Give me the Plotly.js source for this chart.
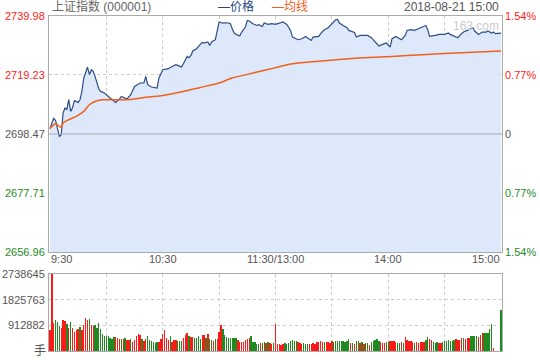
<!DOCTYPE html>
<html><head><meta charset="utf-8">
<script src="https://cdn.plot.ly/plotly-3.0.1.min.js"></script>
<style>html,body{margin:0;padding:0;background:#fff}#chart{width:540px;height:360px}</style>
</head><body><div id="chart"></div>
<script>
// ---- data ----
const title = "上证指数 (000001)";
const dateText = "2018-08-21 15:00";
const preClose = 2698.47;
const priceTicks = [2739.98, 2719.23, 2698.47, 2677.71, 2656.96];
const pctTicks = ["1.54%", "0.77%", "0", "0.77%", "1.54%"];
const volTicks = [2738645, 1825763, 912882];
const timeTicks = [0, 60, 120, 180, 240];
const timeLabels = ["9:30", "10:30", "11:30/13:00", "14:00", "15:00"];

const priceMin = [0,2,3,4,5,6,7,8,9,10,11,12,13,15,16,17,18,20,21,22,23,24,26,27,29,32,35,37,38,41,43,45,48,50,51,52,54,57,58,60,62,63,65,67,68,70,71,73,74,75,76,78,80,81,82,84,85,86,88,89,90,92,93,95,96,97,98,100,101,102,104,105,106,108,110,111,113,114,116,118,120,124,126,128,129,132,134,136,137,139,140,143,144,146,148,149,151,152,153,154,156,158,159,162,163,165,167,169,171,173,175,177,179,181,182,184,186,187,189,190,192,194,196,198,200,201,202,205,207,210,212,213,215,217,219,220,222,224,225,226,228,230,232,233,235,236,237,240];
const priceVal = [2700.33,2703.96,2703.25,2700.58,2697.63,2698.22,2705.86,2707.61,2707.02,2710.53,2706.42,2707.61,2710.18,2709.58,2710.53,2713.45,2718.17,2722.03,2719.33,2721.08,2720.49,2718.73,2714.30,2713.45,2712.89,2711.13,2709.58,2710.78,2711.69,2710.78,2712.29,2715.21,2716.41,2716.41,2718.73,2715.81,2715.00,2714.65,2718.17,2721.08,2721.33,2721.44,2722.24,2722.84,2722.60,2722.03,2723.19,2725.76,2725.30,2726.11,2727.66,2728.47,2729.98,2730.69,2730.47,2730.83,2729.63,2730.83,2731.64,2734.70,2737.86,2737.51,2737.61,2737.51,2737.26,2735.50,2733.99,2733.15,2733.04,2734.34,2736.10,2738.42,2738.21,2737.26,2736.66,2736.91,2736.31,2737.51,2737.02,2737.26,2737.02,2737.86,2737.02,2734.91,2732.58,2731.64,2731.99,2732.80,2732.34,2731.39,2732.58,2732.80,2733.75,2735.15,2735.86,2736.66,2738.21,2738.67,2738.77,2737.51,2736.66,2735.86,2734.91,2734.20,2732.58,2733.15,2733.15,2733.15,2732.34,2730.83,2729.42,2729.98,2730.47,2729.07,2731.99,2732.80,2731.99,2731.64,2733.15,2734.91,2735.15,2734.91,2735.50,2736.10,2736.66,2735.15,2732.80,2733.15,2733.50,2733.50,2733.99,2733.50,2732.80,2732.34,2733.75,2734.34,2734.91,2735.50,2735.86,2734.70,2733.50,2734.34,2734.34,2734.70,2733.99,2734.34,2733.75,2733.99];

const avgMin = [0,1,3,6,7,10,14,18,21,25,28,34,43,52,60,71,80,90,97,108,117,128,138,151,164,182,198,216,240];
const avgVal = [2700.33,2701.14,2702.09,2700.79,2702.34,2703.50,2704.66,2706.42,2708.77,2710.18,2710.53,2710.53,2710.64,2711.48,2712.05,2713.45,2714.86,2716.41,2718.17,2719.92,2721.33,2723.09,2723.79,2724.50,2725.20,2725.76,2726.36,2726.96,2727.66];

const volume = [
741458,2738645,1004556,1100228,1016515,884966,825171,1100228,1064351,956720,
801253,1028474,825171,681663,741458,777335,861048,741458,920843,1183941,
1100228,1148064,920843,884966,920843,801253,1004556,777335,597950,526196,
526196,526196,466401,442483,502278,502278,478360,442483,442483,418565,
466401,382688,382688,418565,322893,406606,526196,597950,562073,418565,
346811,418565,526196,406606,358770,322893,298975,322893,310934,442483,
621868,741458,466401,382688,526196,322893,382688,406606,358770,358770,
358770,466401,562073,645786,538155,502278,502278,478360,478360,526196,
442483,562073,562073,478360,621868,418565,406606,358770,442483,418565,
681663,920843,777335,562073,502278,466401,466401,478360,478360,478360,
382688,322893,322893,322893,382688,418565,466401,526196,322893,322893,
263098,263098,287016,287016,322893,287016,322893,287016,
263098,287016,956720,239180,239180,215262,239180,275057,263098,287016,
358770,382688,358770,346811,310934,287016,251139,275057,239180,239180,
239180,263098,287016,263098,310934,322893,346811,310934,310934,310934,
310934,287016,346811,322893,346811,346811,346811,346811,346811,322893,
370729,418565,275057,287016,263098,346811,346811,275057,310934,239180,
275057,275057,203303,322893,370729,394647,418565,346811,310934,275057,
275057,310934,310934,346811,346811,346811,310934,275057,275057,334852,
275057,490319,382688,346811,346811,322893,275057,310934,275057,310934,
322893,322893,382688,490319,418565,382688,322893,298975,322893,275057,
275057,322893,346811,346811,382688,370729,370729,382688,418565,382688,
382688,454442,454442,418565,454442,454442,526196,526196,526196,526196,
490319,562073,633827,633827,633827,633827,777335,956720,95672,
0,0,0,1458998];
// 1 = up (red), 0 = down (green)
const volUp = [
1,1,1,0,0,0,1,1,1,0, 1,0,1,1,1,1,0,1,1,1, 1,0,1,1,0,0,0,0,0,0,
0,0,0,0,0,1,1,1,0,1, 0,1,1,0,1,1,1,1,1,0, 1,1,0,0,0,0,0,0,1,1,
1,1,1,1,0,1,1,1,0,0, 0,1,1,1,0,1,1,0,0,0, 0,1,1,0,1,0,0,1,0,1,
1,1,0,0,0,0,0,0,0,0, 1,1,1,1,1,1,1,0,0,0, 0,0,1,0,0,1,0,1,
1,0,1,1,1,1,1,0,0,0, 0,0,0,0,1,1,1,0,0,0, 1,1,1,1,1,1,1,1,0,1,
1,1,1,0,0,0,0,0,0,0, 0,0,1,0,1,0,0,1,0,1, 0,0,1,0,0,0,0,0,1,1,
1,0,0,1,1,1,1,0,0,1, 0,1,1,1,1,1,0,1,1,1, 1,1,0,0,1,1,0,0,0,1,
1,0,0,0,0,0,0,0,1,1, 1,1,0,1,1,1,0,0,0,0, 1,1,1,0,0,0,0,0,1,
0,0,0,0];

// ---- styling ----
const RED = '#ff1a1a', GREEN = '#1f8a1f', GRAY = '#555555';
const FONT = 'Liberation Sans, Arial, Noto Sans CJK SC, sans-serif';
const volX = volume.map((v, i) => i);

const traces = [
  {x: priceMin, y: priceVal, type: 'scatter', mode: 'lines', fill: 'tozeroy',
   fillcolor: '#dde8fb', line: {color: '#2d4d86', width: 1.2}, xaxis: 'x', yaxis: 'y', hoverinfo: 'skip'},
  {x: avgMin, y: avgVal, type: 'scatter', mode: 'lines',
   line: {color: '#f0601a', width: 1.5, shape: 'spline', smoothing: 0.6}, xaxis: 'x', yaxis: 'y', hoverinfo: 'skip'},
  {x: volX, y: volume, type: 'bar', width: 0.72,
   marker: {color: volUp.map(u => u ? RED : GREEN), line: {width: 0}}, xaxis: 'x2', yaxis: 'y2', hoverinfo: 'skip'}
];

const ann = [];
const a = (o) => ann.push(Object.assign({showarrow: false, font: {family: FONT, size: 11, color: GRAY}}, o));
const leftColors = [RED, RED, GRAY, GREEN, GREEN];
priceTicks.forEach((v, i) => {
  a({xref: 'paper', yref: 'y', x: 0, y: v, xanchor: 'right', yanchor: 'middle', xshift: -2,
     text: v.toFixed(2), font: {family: FONT, size: 11, color: leftColors[i]}});
  a({xref: 'paper', yref: 'y', x: 1, y: v, xanchor: 'left', yanchor: 'middle', xshift: 1,
     text: pctTicks[i], font: {family: FONT, size: 11, color: leftColors[i]}});
});
volTicks.forEach(v => a({xref: 'paper', yref: 'y2', x: 0, y: v, xanchor: 'right', yanchor: 'middle', xshift: -2, text: String(v)}));
a({xref: 'paper', yref: 'y2', x: 0, y: 0, xanchor: 'right', yanchor: 'middle', xshift: -1, text: '手', font: {family: FONT, size: 12, color: GRAY}});
timeTicks.forEach((t, i) => {
  const anchor = i === 0 ? 'left' : (i === timeTicks.length - 1 ? 'right' : 'center');
  const xv = i === 0 ? -0.5 : (i === timeTicks.length - 1 ? 240.5 : t);
  a({xref: 'x', yref: 'paper', x: xv, y: 0.2955, xanchor: anchor, yanchor: 'top', yshift: 1, text: timeLabels[i]});
});
a({xref: 'paper', yref: 'paper', x: 0, y: 1, xanchor: 'left', yanchor: 'middle', xshift: 1, yshift: 9.5,
   text: title, font: {family: FONT, size: 12, color: '#666'}});
a({xref: 'paper', yref: 'paper', x: 0.368, y: 1, xanchor: 'left', yanchor: 'middle', yshift: 9.5,
   text: '—价格', font: {family: FONT, size: 12, color: '#24467c'}});
a({xref: 'paper', yref: 'paper', x: 0.488, y: 1, xanchor: 'left', yanchor: 'middle', yshift: 9.5,
   text: '—均线', font: {family: FONT, size: 12, color: '#f0601a'}});
a({xref: 'paper', yref: 'paper', x: 1, y: 1, xanchor: 'right', yanchor: 'middle', xshift: -1, yshift: 9.5,
   text: dateText, font: {family: FONT, size: 12, color: GRAY}});
a({xref: 'paper', yref: 'paper', x: 1, y: 1, xanchor: 'right', yanchor: 'top', xshift: -1, yshift: -1,
   text: '163.com', font: {family: FONT, size: 12, color: '#cccccc'}});

const gridX = [30, 60, 90, 120, 150, 180, 210];
const axisCommon = {showline: true, linecolor: '#aaaaaa', linewidth: 1, mirror: true, zeroline: false,
  showticklabels: false, ticks: '', showgrid: true, gridcolor: '#cccccc', griddash: 'dot', gridwidth: 1, fixedrange: true};

const layout = {
  width: 540, height: 360,
  margin: {l: 49, r: 38, t: 16, b: 9, pad: 0},
  paper_bgcolor: '#ffffff', plot_bgcolor: '#ffffff',
  showlegend: false, bargap: 0,
  xaxis: Object.assign({}, axisCommon, {domain: [0, 1], range: [-0.5, 240.5], anchor: 'y', tickmode: 'array', tickvals: gridX}),
  yaxis: Object.assign({}, axisCommon, {domain: [0.2955, 1], range: [priceTicks[4], priceTicks[0]], anchor: 'x', tickmode: 'array', tickvals: [priceTicks[1], priceTicks[3]]}),
  xaxis2: Object.assign({}, axisCommon, {domain: [0, 1], range: [-0.5, 240.5], anchor: 'y2', tickmode: 'array', tickvals: gridX}),
  yaxis2: Object.assign({}, axisCommon, {domain: [0, 0.2299], range: [0, volTicks[0]], anchor: 'x2', tickmode: 'array', tickvals: [volTicks[1], volTicks[2]]}),
  shapes: [{type: 'line', xref: 'paper', yref: 'y', x0: 0, x1: 1, y0: preClose, y1: preClose, line: {color: '#aaaaaa', width: 1}}],
  annotations: ann
};
Plotly.newPlot('chart', traces, layout, {staticPlot: true, displayModeBar: false});
</script></body></html>
